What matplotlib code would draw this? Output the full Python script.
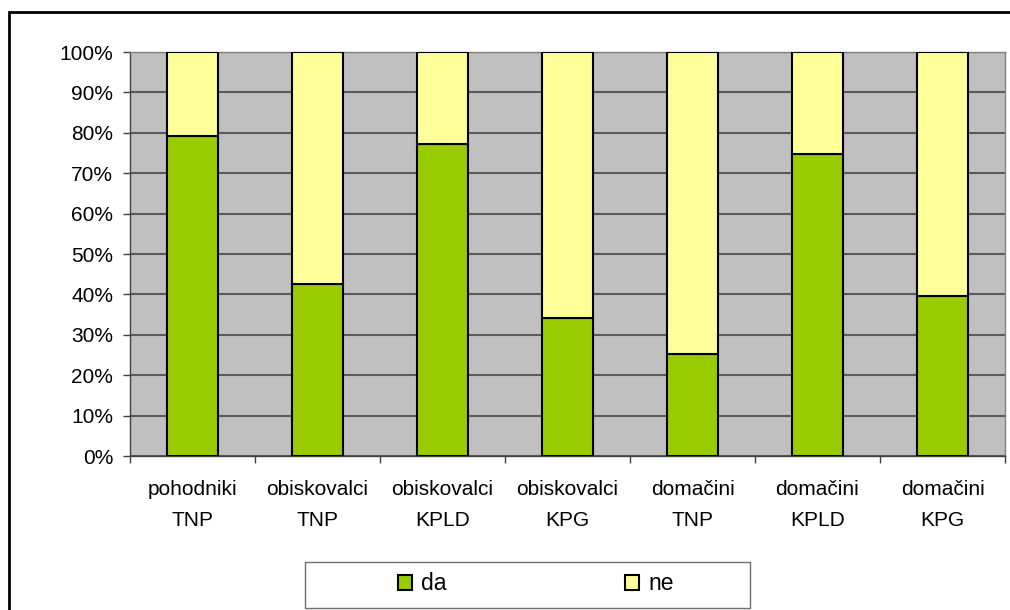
import matplotlib.pyplot as plt
from matplotlib.patches import Rectangle, Patch
import numpy as np

plt.rcParams['font.family'] = ['Liberation Sans', 'DejaVu Sans']

# Podatki
categories = ['pohodniki\nTNP', 'obiskovalci\nTNP', 'obiskovalci\nKPLD', 'obiskovalci\nKPG',
              'domačini\nTNP', 'domačini\nKPLD', 'domačini\nKPG']
da = [79.2, 42.6, 77.2, 34.2, 25.2, 74.8, 39.6]
ne = [100 - v for v in da]
yticks = list(range(0, 101, 10))
ytick_labels = [f'{t}%' for t in yticks]

green = '#99CC00'
yellow = '#FFFF99'

fig = plt.figure(figsize=(10.1, 6.1), dpi=100)
ax = fig.add_axes([130 / 1010, (610 - 456) / 610, 875 / 1010, 404 / 610])
ax.set_facecolor('#C0C0C0')

x = np.arange(len(categories))
ax.bar(x, da, width=0.41, color=green, edgecolor='black', linewidth=1.5, zorder=3)
ax.bar(x, ne, bottom=da, width=0.41, color=yellow, edgecolor='black', linewidth=1.5, zorder=3)

ax.set_xlim(-0.5, len(categories) - 0.5)
ax.set_ylim(0, 100)
ax.set_yticks(yticks)
ax.set_yticklabels(ytick_labels, fontsize=15)
ax.yaxis.grid(True, color='#5a5a5a', linewidth=1.5, zorder=1)

ax.set_xticks(x)
ax.set_xticklabels(categories, fontsize=15, linespacing=1.8)
ax.set_xticks(np.arange(-0.5, len(categories)), minor=True)
ax.tick_params(axis='x', which='major', length=0, pad=17.5)
ax.tick_params(axis='x', which='minor', length=5, width=1, color='#404040')
ax.tick_params(axis='y', length=5, width=1, color='#404040', pad=7)

for side in ['top', 'right']:
    ax.spines[side].set_color('#808080')
    ax.spines[side].set_linewidth(1)
for side in ['left', 'bottom']:
    ax.spines[side].set_color('#404040')
    ax.spines[side].set_linewidth(1)

# Legenda
fig.patches.append(Rectangle((305 / 1010, (610 - 608) / 610), 445 / 1010, 46 / 610,
                             transform=fig.transFigure, facecolor='white',
                             edgecolor='#707070', linewidth=1))
handles = [Patch(facecolor=green, edgecolor='black', linewidth=1.5, label='da'),
           Patch(facecolor=yellow, edgecolor='black', linewidth=1.5, label='ne')]
fig.legend(handles=handles, loc='center', bbox_to_anchor=(536 / 1010, (610 - 584) / 610),
           ncol=2, frameon=False, fontsize=16.5, handlelength=0.61, handleheight=0.61,
           handletextpad=0.39, columnspacing=7.8)

# Okvir slike
fig.patches.append(Rectangle((9 / 1010, -0.1), 1.2, (610 - 12) / 610 + 0.1,
                             transform=fig.transFigure, fill=False,
                             edgecolor='black', linewidth=2))

fig.savefig('out.png', dpi=100)
